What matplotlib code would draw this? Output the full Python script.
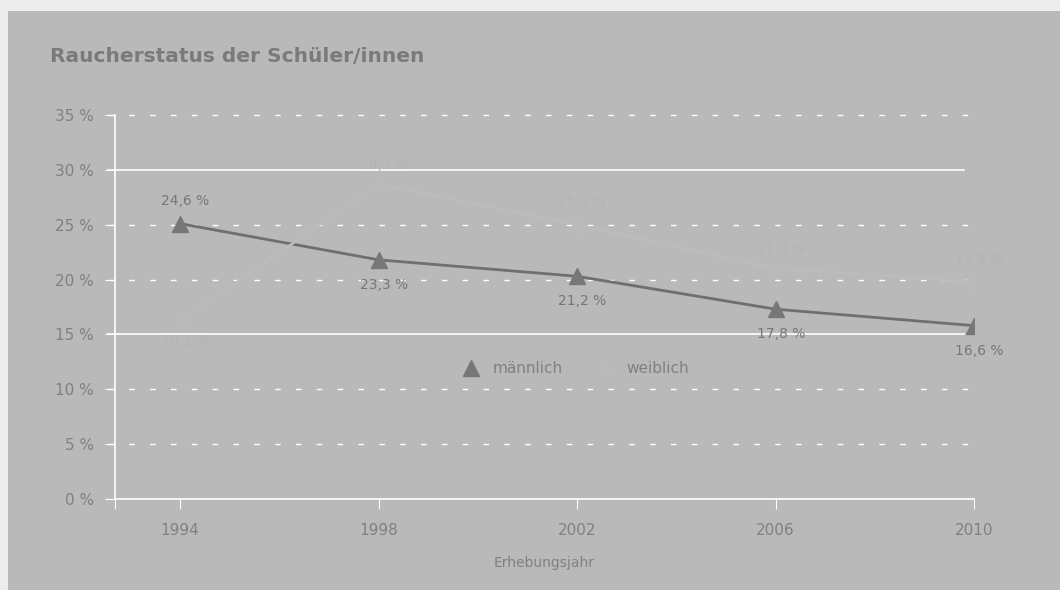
import matplotlib
matplotlib.use("Agg")
import matplotlib.pyplot as plt
from matplotlib.patches import Rectangle

years = [1994, 1998, 2002, 2006, 2010]
maennlich = [25.1, 21.8, 20.3, 17.3, 15.8]
maennlich_labels = ["24,6 %", "23,3 %", "21,2 %", "17,8 %", "16,6 %"]
weiblich = [16.2, 28.7, 25.0, 21.0, 19.8]
weiblich_labels = ["16,2 %", "28,7 %", "25,0 %", "21,0 %", "19,8 %"]
y_ticks = [0, 5, 10, 15, 20, 25, 30, 35]
solid_grid = [15, 30]

BG = "#b9b9b9"
TXT = "#808080"
MALE = "#6f6f6f"
FEMALE = "#bcbcbc"

plt.rcParams["font.family"] = ["DejaVu Sans"]

fig = plt.figure(figsize=(10.6, 5.9), dpi=100, facecolor="#ececec")
panel = Rectangle((8 / 1060, 0), 1, 1 - 11 / 590, transform=fig.transFigure,
                  facecolor=BG, edgecolor="none", zorder=-10)
fig.add_artist(panel)

ax = fig.add_axes([115 / 1060, 91 / 590, 859 / 1060, 384 / 590])
ax.set_facecolor("none")
ax.set_xlim(1992.69, 2010)
ax.set_ylim(0, 35)

# gridlines: solid at 15/30, dashed elsewhere
for y in y_ticks[1:]:
    if y in solid_grid:
        ax.plot([1992.55, 2009.8], [y, y], color="white", lw=1.2, clip_on=False, zorder=1)
    else:
        ax.plot([1992.55, 2009.95], [y, y], color="white", lw=1.0, ls=(0, (4, 11)),
                clip_on=False, zorder=1)

for s in ["top", "right"]:
    ax.spines[s].set_visible(False)
ax.spines["left"].set_color("white")
ax.spines["bottom"].set_color("white")
ax.spines["left"].set_linewidth(1.2)
ax.spines["bottom"].set_linewidth(1.2)

ax.set_yticks(y_ticks)
ax.set_yticklabels([f"{v} %" for v in y_ticks])
ax.set_xticks([1992.69] + years)
ax.set_xticklabels([""] + [str(y) for y in years])
ax.tick_params(axis="y", length=7, color="white", labelcolor=TXT, labelsize=11, pad=8)
ax.tick_params(axis="x", length=7, color="white", labelcolor=TXT, labelsize=11, pad=10)

ax.plot(years, maennlich, color=MALE, lw=2, marker="^", markersize=12,
        markerfacecolor="#777777", markeredgecolor="#777777", zorder=3, label="männlich")
ax.plot(years, weiblich, color=FEMALE, lw=1.8, marker="^", markersize=12,
        markerfacecolor="#bababa", markeredgecolor="#bababa", zorder=4, label="weiblich")

offsets = [(0, 16), (0, -18), (0, -18), (0, -18), (0, -18)]
for x, y, lab, (dx, dy) in zip(years, maennlich, maennlich_labels, offsets):
    ax.annotate(lab, (x, y), xytext=(dx + 4, dy), textcoords="offset points",
                ha="center", va="center", fontsize=10, color="#777777", zorder=5)
w_offsets = [(0, -14), (0, 14), (0, 16), (0, 14), (0, 16)]
for x, y, lab, (dx, dy) in zip(years, weiblich, weiblich_labels, w_offsets):
    ax.annotate(lab, (x, y), xytext=(dx + 4, dy), textcoords="offset points",
                ha="center", va="center", fontsize=10, color="#b4b4b4", zorder=5)

ax.legend(loc="center", bbox_to_anchor=(0.537, 0.34), ncol=2, frameon=False,
          fontsize=11, labelcolor=TXT, handlelength=1.0, columnspacing=2.3,
          handletextpad=0.9)
leg = ax.get_legend()
for h in leg.legend_handles:
    h.set_linestyle("none")

ax.set_xlabel("Erhebungsjahr", color=TXT, fontsize=10, labelpad=13)

fig.text(50 / 1060, 1 - 57 / 590, "Raucherstatus der Schüler/innen", fontsize=14.5,
         fontweight="bold", color="#7a7a7a", ha="left", va="center")

fig.savefig("out.png", dpi=100, facecolor=fig.get_facecolor())
